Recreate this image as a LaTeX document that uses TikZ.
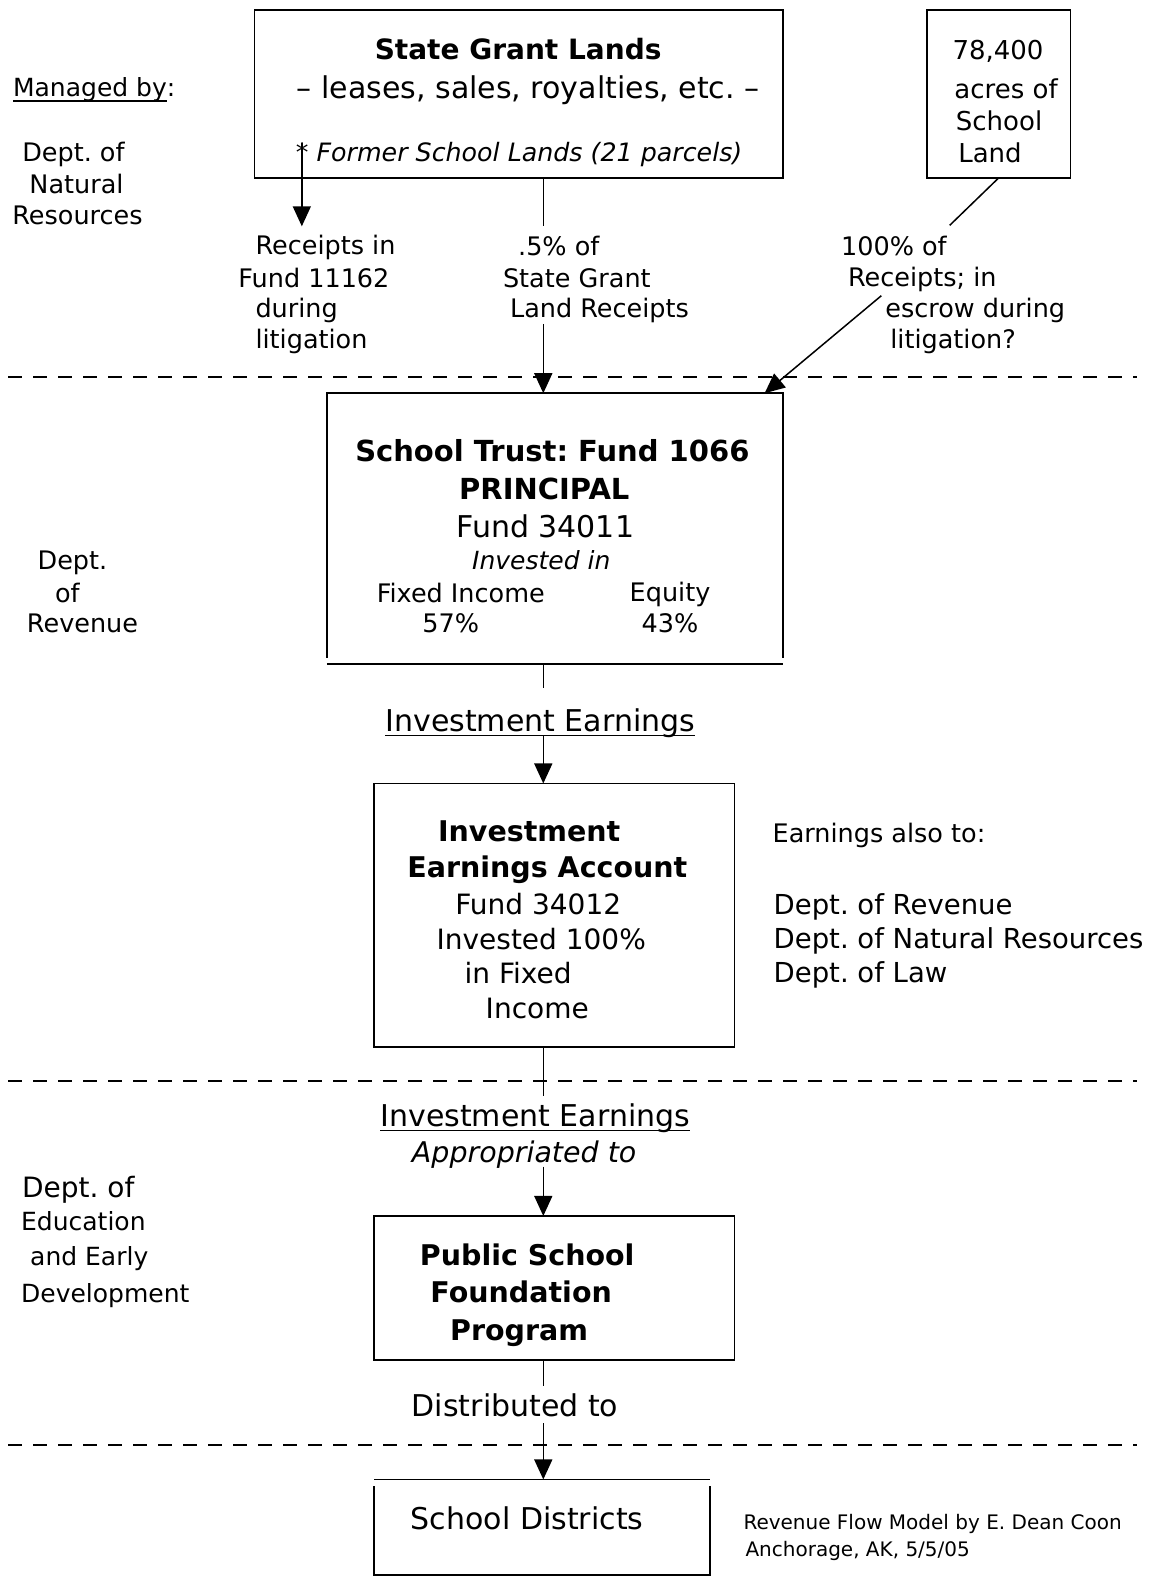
\documentclass[tikz,border=0pt]{standalone}
\usepackage{fontspec}
\setmainfont{DejaVu Sans}
\usetikzlibrary{arrows.meta,fit}
\frenchspacing
\newcommand\mystrut{\vrule width 0pt height .88em depth .14em\relax}
\begin{document}
\begin{tikzpicture}[x=1.00609pt, y=-1.00574pt,
  fs/.style={inner sep=0pt, outer sep=0pt, font=\fontsize{#1}{#1}\selectfont\frenchspacing\mystrut},
  box/.style={draw, line width=1.8pt, inner sep=0pt, outer sep=0pt},
  frame/.style={inner sep=0pt, outer sep=0pt},
  conn/.style={line width=1.5pt},
  arr/.style={line width=1.5pt, -{Triangle[length=20pt,width=18pt]}},
  sep/.style={line width=1.8pt, dash pattern=on 14pt off 11pt},
  ul/.style={line width=1.3pt}]
\useasboundingbox (0,0) rectangle (1150,1568);
\coordinate (cx) at (540,0);

% ---------- separators
\draw[sep] (8,375) -- (1130,375);
\draw[sep] (8,1075) -- (1130,1075);
\draw[sep] (8,1437) -- (1130,1437);

% ---------- top boxes
\node[box, fit={(253,10) (778,177)}] (TB) {};
\node[fs=28] (tb1) at (515,49) {\bfseries State Grant Lands};
\node[fs=30] (tb2) at (525,88) {-- leases, sales, royalties, etc. --};
\node[fs=25.3] (tb3) at (516,152) {\itshape * Former School Lands (21 parcels)};

\node[box, fit={(921,10) (1064,177)}] (AB) {};
\node[fs=26] (ab1) at (992,50) {78,400};
\node[fs=26] (ab2) at (1000,88) {acres of};
\node[fs=26] (ab3) at (993,120) {School};
\node[fs=26] (ab4) at (984,152) {Land};

% ---------- left: managed by
\node[fs=25, anchor=west] (mg) at (13,88) {Managed by};
\node[fs=25, anchor=base west] (mgc) at (mg.base east) {:};
\draw[ul] ([yshift=-4pt]mg.base west) -- ([yshift=-4pt]mg.base east);
\node[fs=25.5] (n1) at (73,152) {Dept. of};
\node[fs=25.5] (n2) at (76,183) {Natural};
\node[fs=25.5] (n3) at (77,214) {Resources};

% ---------- flow labels
\node[fs=25.5, anchor=west] (r1) at (254,245) {Receipts in};
\node[fs=25.5, anchor=west] (r2) at (237,276) {Fund 11162};
\node[fs=25.5, anchor=west] (r3) at (254,307) {during};
\node[fs=25.5, anchor=west] (r4) at (254,338) {litigation};

\node[fs=25.5, anchor=west] (p1) at (515,245) {.5\% of};
\node[fs=25.5, anchor=west] (p2) at (500,276) {State Grant};
\node[fs=25.5, anchor=west] (p3) at (507,307) {Land Receipts};

\node[fs=25.5, anchor=west] (h1) at (836,245) {100\% of};
\node[fs=25.5, anchor=west] (h2) at (843,276) {Receipts; in};
\node[fs=25.5, anchor=west] (h3) at (880,307) {escrow during};
\node[fs=25.5, anchor=west] (h4) at (885,338) {litigation?};

% ---------- School Trust box
\node[frame, fit={(325,391) (778,660)}] (ST) {};
\draw[line width=1.8pt] ([yshift=6pt]ST.south west) |- (ST.north east) -- ([yshift=6pt]ST.south east);
\draw[line width=1.8pt] (ST.south west) -- (ST.south east);
\node[fs=29] (st1) at (549,448) {\bfseries School Trust: Fund 1066};
\node[fs=29] (st2) at (541,486) {\bfseries PRINCIPAL};
\node[fs=30] (st3) at (542,523) {Fund 34011};
\node[fs=25] (st4) at (538,557) {\itshape Invested in};
\node[fs=25.5] (st5) at (458,590) {Fixed Income};
\node[fs=25.5] (st6) at (666,590) {Equity};
\node[fs=25.5] (st7) at (448,620) {57\%};
\node[fs=25.5] (st8) at (666,620) {43\%};

\node[fs=25.5] (v1) at (72,558) {Dept.};
\node[fs=25.5] (v2) at (67,590) {of};
\node[fs=25.5] (v3) at (82,620) {Revenue};

% ---------- connectors, top part
\coordinate (ast) at (300,142);
\coordinate (a1) at (300,225);
\draw[arr] (ast) -- (a1);
\coordinate (m1) at (540,225);
\coordinate (m2) at (540,322);
\draw[conn] (TB.south -| cx) -- (m1);
\draw[arr] (m2) -- (ST.north -| cx);
\coordinate (d1) at (944,224);
\coordinate (d2) at (876,294);
\coordinate (d3) at (760,0);
\draw[conn] (AB.south) -- (d1);
\draw[arr] (d2) -- (ST.north -| d3);

% ---------- investment earnings
\coordinate (c1) at (540,684);
\draw[conn] (ST.south -| cx) -- (c1);
\node[fs=30] (ie1) at (537,717) {Investment Earnings};
\draw[ul] ([yshift=-4pt]ie1.base west) -- ([yshift=-4pt]ie1.base east);
\coordinate (c1b) at (540,732);

\node[box, fit={(372,779) (730,1041)}] (IA) {};
\draw[arr] (c1b) -- (IA.north -| cx);
\node[fs=28.5] (ia1) at (526,826) {\bfseries Investment};
\node[fs=28.5] (ia2) at (544,863) {\bfseries Earnings Account};
\node[fs=28] (ia3) at (535,899) {Fund 34012};
\node[fs=28] (ia4) at (538,934) {Invested 100\%};
\node[fs=28] (ia5) at (515,968) {in Fixed};
\node[fs=28] (ia6) at (534,1002) {Income};

\node[fs=25.5, anchor=west] (e0) at (768,829) {Earnings also to:};
\node[fs=27.5, anchor=west] (e1) at (769,900) {Dept. of Revenue};
\node[fs=27.5, anchor=west] (e2) at (769,934) {Dept. of Natural Resources};
\node[fs=27.5, anchor=west] (e3) at (769,968) {Dept. of Law};

\coordinate (c2) at (540,1090);
\draw[conn] (IA.south -| cx) -- (c2);
\node[fs=30] (ie2) at (532,1110) {Investment Earnings};
\draw[ul] ([yshift=-4pt]ie2.base west) -- ([yshift=-4pt]ie2.base east);
\node[fs=28.5] (ap) at (521,1146) {\itshape Appropriated to};
\coordinate (c3) at (540,1160);

% ---------- foundation program
\node[box, fit={(372,1209) (730,1352)}] (PS) {};
\draw[arr] (c3) -- (PS.north -| cx);
\node[fs=28.5] (ps1) at (524,1248) {\bfseries Public School};
\node[fs=28.5] (ps2) at (518,1285) {\bfseries Foundation};
\node[fs=28.5] (ps3) at (516,1323) {\bfseries Program};

\node[fs=28, anchor=west] (ed1) at (22,1181) {Dept. of};
\node[fs=25, anchor=west] (ed2) at (21,1214) {Education};
\node[fs=25, anchor=west] (ed3) at (30,1250) {and Early};
\node[fs=25, anchor=west] (ed4) at (21,1287) {Development};

\coordinate (c4) at (540,1378);
\draw[conn] (PS.south -| cx) -- (c4);
\node[fs=30] (dt) at (512,1397) {Distributed to};
\coordinate (c5) at (540,1415);

% ---------- school districts
\node[frame, fit={(372,1471) (706,1566)}] (SD) {};
\draw[line width=1.8pt] (SD.north west) -- (SD.north east);
\draw[line width=1.8pt] ([yshift=-7pt]SD.north west) |- (SD.south east) -- ([yshift=-7pt]SD.north east);
\draw[arr] (c5) -- (SD.north -| cx);
\node[fs=30] (sd1) at (524,1510) {School Districts};

\node[fs=20, anchor=west] (cr1) at (739,1514) {Revenue Flow Model by E. Dean Coon};
\node[fs=20, anchor=west] (cr2) at (741,1541) {Anchorage, AK, 5/5/05};
\end{tikzpicture}
\end{document}
